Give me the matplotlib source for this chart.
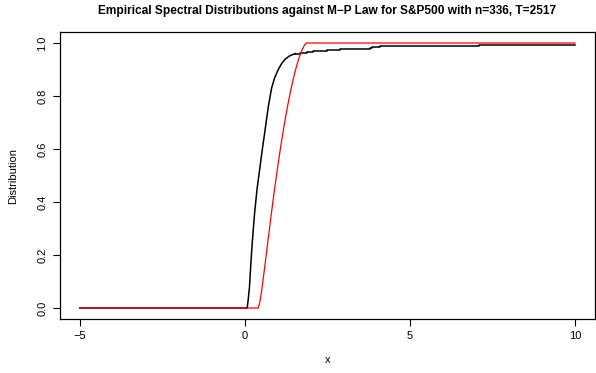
import matplotlib
matplotlib.use("Agg")
import matplotlib.pyplot as plt

plt.rcParams['font.family'] = ['Liberation Sans', 'DejaVu Sans']

# empirical spectral distribution
esd_bulk_x = [-5.0, 0.07, 0.10, 0.14, 0.18, 0.22, 0.26, 0.30, 0.37, 0.45, 0.53,
              0.61, 0.71, 0.81, 0.90, 1.00, 1.11, 1.22, 1.35, 1.52]
esd_bulk_y = [0.0, 0.0, 0.03, 0.08, 0.165, 0.24, 0.305, 0.365, 0.45, 0.525, 0.60,
              0.67, 0.76, 0.83, 0.868, 0.897, 0.922, 0.939, 0.951, 0.960]
# tail: isolated eigenvalues -> visible steps
esd_tail_x = [1.52, 1.67, 1.87, 2.07, 2.48, 2.88, 3.38, 3.79, 3.85, 4.09, 7.10, 8.46, 10.0]
esd_tail_y = [0.960, 0.964, 0.967, 0.970, 0.973, 0.976, 0.979, 0.982, 0.985, 0.988,
              0.991, 0.994, 0.994]

# Marchenko-Pastur cdf
mp_x = [-5.0, 0.403, 0.45, 0.5, 0.6, 0.7, 0.8, 0.9, 1.0, 1.1, 1.2, 1.3, 1.4, 1.5,
        1.6, 1.7, 1.8, 1.864, 10.0]
mp_y = [0.0, 0.0, 0.02, 0.057, 0.153, 0.254, 0.354, 0.449, 0.538, 0.621, 0.697,
        0.766, 0.828, 0.882, 0.928, 0.965, 0.991, 1.0, 1.0]

fig = plt.figure(figsize=(5.96, 3.73), dpi=100)
W, H = 596, 373
ax = fig.add_axes([60 / W, (H - 318.6) / H, (594.8 - 60) / W, (318.6 - 32.4) / H])

ax.plot(esd_bulk_x, esd_bulk_y, color='black', lw=1.1)
ax.plot(esd_tail_x, esd_tail_y, color='black', lw=1.1, drawstyle='steps-post')
ax.plot(mp_x, mp_y, color='red', lw=0.9)

ax.set_xlim(-5.6, 10.6)
ax.set_ylim(-0.04, 1.04)
ax.set_xticks([-5, 0, 5, 10])
ax.set_xticklabels(['\u22125', '0', '5', '10'])
ax.set_yticks([0, 0.2, 0.4, 0.6, 0.8, 1.0])
ax.set_yticklabels(['0.0', '0.2', '0.4', '0.6', '0.8', '1.0'], rotation=90, va='center')
ax.tick_params(direction='out', length=5, width=0.8, labelsize=8, pad=4)
for s in ax.spines.values():
    s.set_linewidth(0.9)

ax.set_xlabel('x', fontsize=8, labelpad=10)
ax.set_ylabel('Distribution', fontsize=8, labelpad=14)
fig.suptitle('Empirical Spectral Distributions against M\u2212P Law for S&P500 with n=336, T=2517',
             x=(60 + 594.8) / 2 / W, y=1 - 11 / H, va='center', fontsize=8.6, fontweight='bold')

fig.savefig('out.png', dpi=100)
